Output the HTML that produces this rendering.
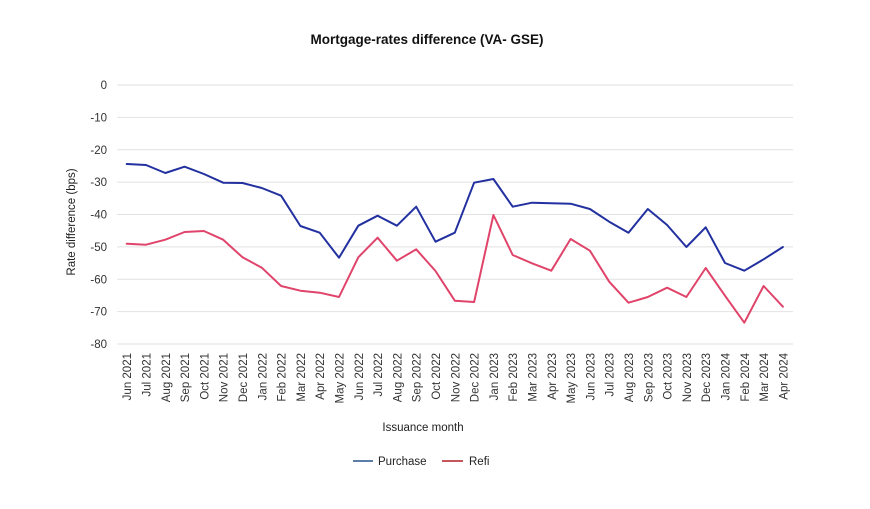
<!DOCTYPE html>
<html>
<head>
<meta charset="utf-8">
<style>
  html, body { margin:0; padding:0; background:#ffffff; }
  svg { display:block; }
  text { font-family: "Liberation Sans", Arial, sans-serif; }
</style>
</head>
<body>
<svg width="870" height="509" viewBox="0 0 870 509" xmlns="http://www.w3.org/2000/svg">
  <rect x="0" y="0" width="870" height="509" fill="#ffffff"/>

  <!-- Title -->
  <text x="427" y="44" text-anchor="middle" font-size="13.5" font-weight="bold" fill="#111111">Mortgage-rates difference (VA- GSE)</text>

  <!-- Gridlines -->
  <g stroke="#e2e2e2" stroke-width="1">
    <line x1="117" y1="85" x2="793" y2="85"/>
    <line x1="117" y1="117.4" x2="793" y2="117.4"/>
    <line x1="117" y1="149.8" x2="793" y2="149.8"/>
    <line x1="117" y1="182.1" x2="793" y2="182.1"/>
    <line x1="117" y1="214.5" x2="793" y2="214.5"/>
    <line x1="117" y1="246.9" x2="793" y2="246.9"/>
    <line x1="117" y1="279.3" x2="793" y2="279.3"/>
    <line x1="117" y1="311.6" x2="793" y2="311.6"/>
    <line x1="117" y1="344" x2="793" y2="344"/>
  </g>

  <!-- Y tick labels -->
  <g font-size="11.5" fill="#333333" text-anchor="end">
    <text x="107" y="89">0</text>
    <text x="107" y="121.4">-10</text>
    <text x="107" y="153.8">-20</text>
    <text x="107" y="186.1">-30</text>
    <text x="107" y="218.5">-40</text>
    <text x="107" y="250.9">-50</text>
    <text x="107" y="283.3">-60</text>
    <text x="107" y="315.6">-70</text>
    <text x="107" y="348">-80</text>
  </g>

  <!-- Y axis title -->
  <text transform="translate(75,222) rotate(-90)" text-anchor="middle" font-size="11.5" fill="#222222">Rate difference (bps)</text>

  <!-- X tick labels -->
  <g font-size="11.5" fill="#333333" text-anchor="end">
    <text transform="translate(131.2,353) rotate(-90)">Jun 2021</text>
    <text transform="translate(150.5,353) rotate(-90)">Jul 2021</text>
    <text transform="translate(169.8,353) rotate(-90)">Aug 2021</text>
    <text transform="translate(189.1,353) rotate(-90)">Sep 2021</text>
    <text transform="translate(208.4,353) rotate(-90)">Oct 2021</text>
    <text transform="translate(227.7,353) rotate(-90)">Nov 2021</text>
    <text transform="translate(247.0,353) rotate(-90)">Dec 2021</text>
    <text transform="translate(266.3,353) rotate(-90)">Jan 2022</text>
    <text transform="translate(285.6,353) rotate(-90)">Feb 2022</text>
    <text transform="translate(304.9,353) rotate(-90)">Mar 2022</text>
    <text transform="translate(324.2,353) rotate(-90)">Apr 2022</text>
    <text transform="translate(343.5,353) rotate(-90)">May 2022</text>
    <text transform="translate(362.8,353) rotate(-90)">Jun 2022</text>
    <text transform="translate(382.1,353) rotate(-90)">Jul 2022</text>
    <text transform="translate(401.4,353) rotate(-90)">Aug 2022</text>
    <text transform="translate(420.7,353) rotate(-90)">Sep 2022</text>
    <text transform="translate(440.0,353) rotate(-90)">Oct 2022</text>
    <text transform="translate(459.3,353) rotate(-90)">Nov 2022</text>
    <text transform="translate(478.6,353) rotate(-90)">Dec 2022</text>
    <text transform="translate(497.9,353) rotate(-90)">Jan 2023</text>
    <text transform="translate(517.2,353) rotate(-90)">Feb 2023</text>
    <text transform="translate(536.5,353) rotate(-90)">Mar 2023</text>
    <text transform="translate(555.8,353) rotate(-90)">Apr 2023</text>
    <text transform="translate(575.1,353) rotate(-90)">May 2023</text>
    <text transform="translate(594.4,353) rotate(-90)">Jun 2023</text>
    <text transform="translate(613.7,353) rotate(-90)">Jul 2023</text>
    <text transform="translate(633.0,353) rotate(-90)">Aug 2023</text>
    <text transform="translate(652.3,353) rotate(-90)">Sep 2023</text>
    <text transform="translate(671.6,353) rotate(-90)">Oct 2023</text>
    <text transform="translate(690.9,353) rotate(-90)">Nov 2023</text>
    <text transform="translate(710.2,353) rotate(-90)">Dec 2023</text>
    <text transform="translate(729.5,353) rotate(-90)">Jan 2024</text>
    <text transform="translate(748.8,353) rotate(-90)">Feb 2024</text>
    <text transform="translate(768.1,353) rotate(-90)">Mar 2024</text>
    <text transform="translate(787.4,353) rotate(-90)">Apr 2024</text>
  </g>

  <!-- X axis title -->
  <text x="423" y="431" text-anchor="middle" font-size="11.5" fill="#222222">Issuance month</text>

  <!-- Refi series -->
  <polyline fill="none" stroke="#e0446a" stroke-width="2" stroke-linejoin="round" stroke-linecap="round"
    points="126.7,243.7 146.0,244.7 165.3,239.7 184.6,232 203.9,231 223.2,239.7 242.5,257.3 261.8,267.7 281.1,286 300.4,290.7 319.7,292.7 339.0,297 358.3,257.3 377.6,237.7 396.9,260.7 416.2,249.3 435.5,271 454.8,300.7 474.1,302 493.4,215 512.7,255 532.0,263.3 551.3,270.7 570.6,239 589.9,250.7 609.2,281.7 628.5,302.7 647.8,297 667.1,287.7 686.4,297 705.7,268 725.0,295.7 744.3,322.7 763.6,286 782.9,306.7"/>

  <!-- Purchase series -->
  <polyline fill="none" stroke="#2230a0" stroke-width="2" stroke-linejoin="round" stroke-linecap="round"
    points="126.7,164 146.0,165 165.3,173 184.6,166.7 203.9,174 223.2,182.7 242.5,183 261.8,188 281.1,195.7 300.4,226 319.7,232.7 339.0,257.7 358.3,225.7 377.6,215.7 396.9,225.7 416.2,206.7 435.5,241.7 454.8,232.7 474.1,182.7 493.4,179 512.7,206.7 532.0,202.7 551.3,203.3 570.6,203.7 589.9,209 609.2,221.7 628.5,232.7 647.8,209 667.1,225 686.4,247 705.7,227.3 725.0,263 744.3,270.7 763.6,259.3 782.9,247"/>

  <!-- Legend -->
  <line x1="353" y1="461" x2="373" y2="461" stroke="#5a7ea8" stroke-width="2"/>
  <text x="378" y="465" font-size="11.5" fill="#222222">Purchase</text>
  <line x1="442" y1="461" x2="463" y2="461" stroke="#c4565c" stroke-width="2"/>
  <text x="469" y="465" font-size="11.5" fill="#222222">Refi</text>
</svg>
</body>
</html>
